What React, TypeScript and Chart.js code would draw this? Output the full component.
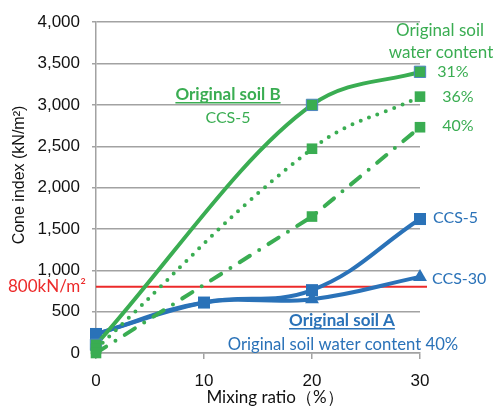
import React, { useEffect, useRef } from "react";
import { Chart, registerables } from "chart.js";

Chart.register(...registerables);

// Mixing ratio (%) for each soil
const mixingRatioA = [0, 10, 20, 30];
const mixingRatioB = [0, 20, 30];

// Original soil A (water content 40%), cone index kN/m²
const soilA_CCS5 = [230, 610, 760, 1620];
const soilA_CCS30 = [230, 610, 650, 920];

// Original soil B, CCS-5, by original water content
const soilB_wc31 = [100, 3000, 3400];
const soilB_wc36 = [50, 2470, 3100];
const soilB_wc40 = [0, 1650, 2730];

// Required cone index
const thresholdValue = 800;

const yMax = 4000;
const yStep = 500;
const xTickValues = [0, 10, 20, 30];

const GREEN = "#3aad52";
const BLUE = "#2a72b8";
const RED = "#ec2a2a";
const GRID = "#a2a2a2";
const TEXT_FONT = "Lato, 'Noto Sans', sans-serif";
const TICK_FONT = "'Liberation Sans', Arial, sans-serif";

const toPoints = (xs: number[], ys: number[]) => xs.map((x, i) => ({ x, y: ys[i] }));

const annotationPlugin = {
  id: "annotations",
  beforeDatasetsDraw(chart: any) {
    const { ctx, scales, chartArea } = chart;
    const y = scales.y.getPixelForValue(thresholdValue);
    ctx.save();
    ctx.strokeStyle = RED;
    ctx.lineWidth = 2;
    ctx.beginPath();
    ctx.moveTo(chartArea.left, y);
    ctx.lineTo(chartArea.right + 7, y);
    ctx.stroke();
    ctx.restore();
  },
  afterDraw(chart: any) {
    const { ctx, scales } = chart;
    const text = (
      s: string,
      x: number,
      y: number,
      color: string,
      opts: { size?: number; bold?: boolean; align?: CanvasTextAlign; underline?: boolean; font?: string } = {}
    ) => {
      const size = opts.size ?? 16;
      ctx.save();
      ctx.font = `${opts.bold ? "bold " : ""}${size}px ${opts.font ?? TEXT_FONT}`;
      ctx.fillStyle = color;
      ctx.textAlign = opts.align ?? "center";
      ctx.textBaseline = "middle";
      ctx.fillText(s, x, y);
      if (opts.underline) {
        const w = ctx.measureText(s).width;
        const x0 = ctx.textAlign === "center" ? x - w / 2 : ctx.textAlign === "right" ? x - w : x;
        ctx.strokeStyle = color;
        ctx.lineWidth = 1.5;
        ctx.beginPath();
        ctx.moveTo(x0, y + size * 0.45);
        ctx.lineTo(x0 + w, y + size * 0.45);
        ctx.stroke();
      }
      ctx.restore();
    };

    // Soil B labels
    text("Original soil", 440, 31, GREEN, { size: 17 });
    text("water content", 441, 53, GREEN, { size: 17 });
    text("31%", 453, 72, GREEN);
    text("36%", 458, 97, GREEN);
    text("40%", 458, 126, GREEN);
    text("Original soil B", 228, 95, GREEN, { bold: true, underline: true, size: 17 });
    text("CCS-5", 228, 118, GREEN);

    // Soil A labels
    text("CCS-5", 433, 218, BLUE, { align: "left" });
    text("CCS-30", 432, 279, BLUE, { align: "left" });
    text("Original soil A", 342, 321, BLUE, { bold: true, underline: true, size: 17 });
    text("Original soil water content 40%", 343, 345, BLUE, { size: 16.7 });

    // Threshold label
    const ty = scales.y.getPixelForValue(thresholdValue);
    text("800kN/m²", 86, ty, RED, { align: "right", size: 17 });

    // Axis titles
    ctx.save();
    ctx.translate(20, 175);
    ctx.rotate(-Math.PI / 2);
    ctx.font = `16px ${TICK_FONT}`;
    ctx.fillStyle = "#111";
    ctx.textAlign = "center";
    ctx.textBaseline = "middle";
    ctx.fillText("Cone index (kN/m²)", 0, 0);
    ctx.restore();

    text("Mixing ratio（%）", 275, 398, "#111", { size: 17 });
  },
};

export default function App() {
  const canvasRef = useRef<HTMLCanvasElement | null>(null);

  useEffect(() => {
    if (!canvasRef.current) return;
    const chart = new Chart(canvasRef.current, {
      type: "line",
      data: {
        datasets: [
          {
            label: "Soil B 40%",
            data: toPoints(mixingRatioB, soilB_wc40),
            borderColor: GREEN,
            backgroundColor: GREEN,
            borderWidth: 4,
            borderDash: [12, 11, 0, 11],
            borderCapStyle: "round",
            tension: 0,
            pointStyle: "rect",
            pointRadius: 7.5,
            pointBorderWidth: 0,
            clip: false,
            order: 1,
          },
          {
            label: "Soil B 36%",
            data: toPoints(mixingRatioB, soilB_wc36),
            borderColor: GREEN,
            backgroundColor: GREEN,
            borderWidth: 4,
            borderDash: [0, 9],
            borderCapStyle: "round",
            tension: 0.4,
            pointStyle: "rect",
            pointRadius: 7.5,
            pointBorderWidth: 0,
            clip: false,
            order: 2,
          },
          {
            label: "Soil B 31%",
            data: toPoints(mixingRatioB, soilB_wc31),
            borderColor: GREEN,
            backgroundColor: GREEN,
            pointBorderColor: "#4f86c0",
            borderWidth: 4,
            cubicInterpolationMode: "monotone",
            pointStyle: "rect",
            pointRadius: 8,
            pointBorderWidth: 1,
            clip: false,
            order: 3,
          },
          {
            label: "Soil A CCS-5",
            data: toPoints(mixingRatioA, soilA_CCS5),
            borderColor: BLUE,
            backgroundColor: BLUE,
            borderWidth: 4,
            tension: 0.4,
            pointStyle: "rect",
            pointRadius: 8.5,
            pointBorderWidth: 0,
            clip: false,
            order: 4,
          },
          {
            label: "Soil A CCS-30",
            data: toPoints(mixingRatioA, soilA_CCS30),
            borderColor: BLUE,
            backgroundColor: BLUE,
            borderWidth: 4,
            tension: 0.4,
            pointStyle: "triangle",
            pointRadius: [0, 0, 8, 8],
            pointBorderWidth: 0,
            clip: false,
            order: 5,
          },
        ],
      },
      options: {
        animation: false,
        responsive: false,
        locale: "en-US",
        layout: { padding: { top: 20, right: 74, left: 0, bottom: 0 } },
        plugins: {
          legend: { display: false },
          tooltip: { enabled: false },
        },
        scales: {
          x: {
            type: "linear",
            min: 0,
            max: 30,
            afterBuildTicks: (scale: any) => {
              scale.ticks = xTickValues.map((v) => ({ value: v }));
            },
            afterFit: (scale: any) => {
              scale.height = 54;
            },
            grid: {
              drawOnChartArea: false,
              drawTicks: true,
              tickLength: 6,
              color: GRID,
              lineWidth: 1.5,
            },
            border: { display: true, color: GRID, width: 1.5 },
            ticks: {
              padding: 12,
              color: "#111",
              font: { family: TICK_FONT, size: 17 },
              maxRotation: 0,
            },
          },
          y: {
            min: 0,
            max: yMax,
            afterFit: (scale: any) => {
              scale.width = 96;
            },
            grid: {
              color: GRID,
              lineWidth: 1.5,
              tickLength: 4,
            },
            border: { display: true, color: GRID, width: 1.5 },
            ticks: {
              stepSize: yStep,
              padding: 12,
              color: "#111",
              font: { family: TICK_FONT, size: 17 },
            },
          },
        },
      },
      plugins: [annotationPlugin],
    } as any);
    return () => chart.destroy();
  }, []);

  return (
    <div style={{ position: "absolute", left: 0, top: 0, width: 494, height: 407, background: "#fff" }}>
      <canvas ref={canvasRef} width={494} height={407} style={{ width: 494, height: 407 }} />
    </div>
  );
}
